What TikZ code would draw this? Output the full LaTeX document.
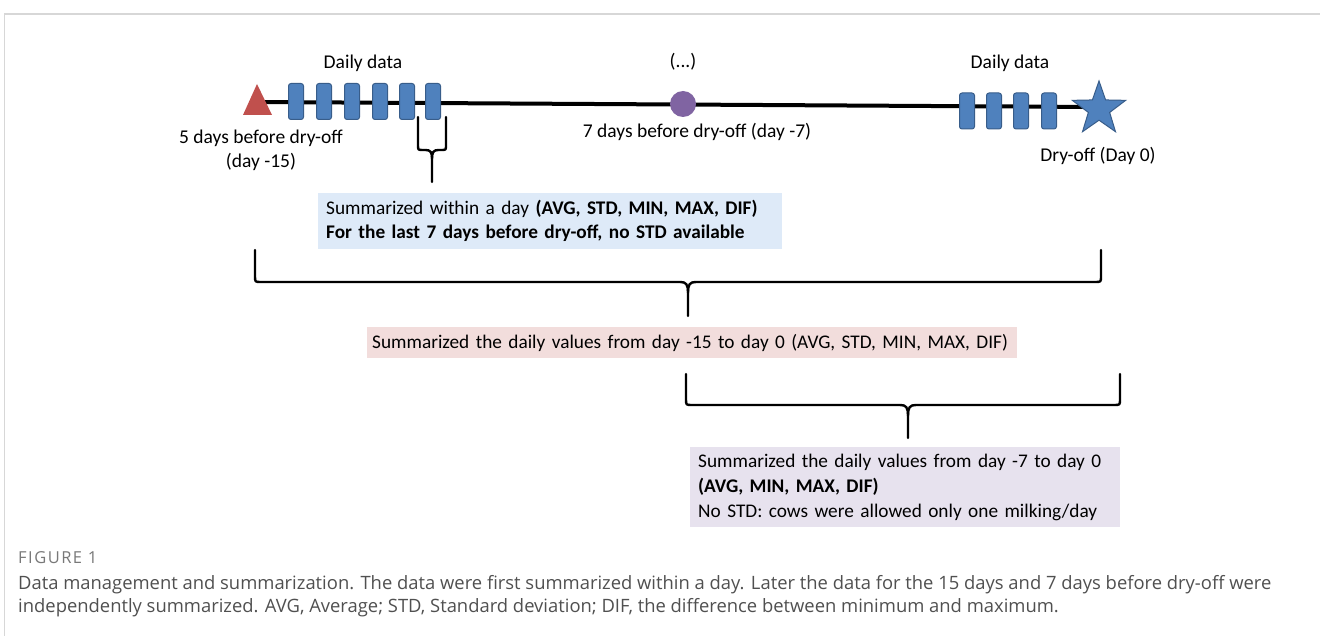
\documentclass[tikz,border=0pt]{standalone}
\usepackage{fontspec}
\setmainfont{Carlito}
\newfontfamily\capfont{Open Sans}
\newfontfamily\figfont[LetterSpace=9]{Open Sans}
\usetikzlibrary{shapes.geometric}
\definecolor{redtri}{RGB}{192,80,77}
\definecolor{rectfill}{RGB}{79,129,189}
\definecolor{rectdraw}{RGB}{56,93,138}
\definecolor{dotc}{RGB}{128,100,162}
\definecolor{boxblue}{RGB}{222,234,248}
\definecolor{boxpink}{RGB}{242,221,220}
\definecolor{boxpurple}{RGB}{231,226,238}
\definecolor{framec}{RGB}{215,215,215}
\definecolor{capc}{RGB}{80,80,80}
\definecolor{figc}{RGB}{120,120,120}
\newcommand{\curlybrace}[7]{%
 \draw[brace] (#1,#4) -- (#1,{#5-#7}) .. controls (#1,#5) .. ({#1+#7},#5) -- ({#3-1.3*#7},#5) .. controls ({#3-0.3*#7},#5) and (#3,{#5+0.4*#7}) .. (#3,{#5+1.8*#7}) -- (#3,#6);
 \draw[brace] (#2,#4) -- (#2,{#5-#7}) .. controls (#2,#5) .. ({#2-#7},#5) -- ({#3+1.3*#7},#5) .. controls ({#3+0.3*#7},#5) and (#3,{#5+0.4*#7}) .. (#3,{#5+1.8*#7});
}
\begin{document}
\begin{tikzpicture}[x=1pt,y=-1pt,
  txt/.style={font=\fontsize{19.5}{24}\selectfont, inner sep=0pt},
  dayrect/.style={rectangle, rounded corners=2.5pt, fill=rectfill, draw=rectdraw, line width=1pt, minimum width=15pt, minimum height=36pt, inner sep=0pt},
  brace/.style={line width=2.4pt, line join=round, line cap=round},
  infobox/.style={font=\fontsize{19.3}{24}\selectfont, align=left, anchor=north west, inner xsep=8pt, inner ysep=0pt}
]
\useasboundingbox (0,0) rectangle (1320,636);
\fill[white] (0,0) rectangle (1320,636);
% frame
\draw[framec, line width=2pt] (4,14) -- (1320,14);
\draw[framec, line width=0.8pt] (4,14) -- (4,636);
% timeline
\coordinate (start) at (257,102);
\coordinate (end) at (1099,107);
\draw[line width=4pt] (start) -- (end);
\fill[redtri] (243,115) -- (257,84) -- (272,115) -- cycle;
\foreach \x [count=\i] in {296,324,352,380,407,433} \node[dayrect] (r\i) at (\x,101.5) {};
\foreach \x [count=\i] in {967,994,1021,1049} \node[dayrect] (s\i) at (\x,111) {};
\node[circle, fill=dotc, minimum size=26pt, inner sep=0pt] (dot) at (683,104) {};
\node[star, star points=5, star point ratio=2.5, minimum size=56pt, inner sep=0pt, fill=rectfill, draw=rectdraw, line width=1pt] (star) at (1099,109) {};
% labels
\node[txt] (dd1) at (363,63) {Daily data};
\node[txt] (dd2) at (1010,63) {Daily data};
\node[txt] (dots) at (683,62) {(...)};
\node[txt, align=center] (l15) at (261,150) {5 days before dry-off\\(day -15)};
\node[txt] (l7) at (697,132) {7 days before dry-off (day -7)};
\node[txt] (l0) at (1098,156) {Dry-off (Day 0)};
% braces
\curlybrace{418}{446}{432}{117}{150}{182}{5}
\curlybrace{255}{1101}{688}{250}{282}{316}{6}
\curlybrace{686}{1120}{908}{374}{405}{438}{6}
% boxes
\node[infobox, fill=boxblue, minimum width=464pt, minimum height=56pt, text width=448pt] (b1) at (318,193) {Summarized within a day \textbf{(AVG, STD, MIN, MAX, DIF)}\\\textbf{For the last 7 days before dry-off, no STD available}};
\node[infobox, fill=boxpink, inner xsep=5pt, minimum width=649pt, minimum height=31pt, text width=640pt] (b2) at (367,327) {Summarized the daily values from day -15 to day 0 (AVG, STD, MIN, MAX, DIF)};
\node[infobox, fill=boxpurple, font=\fontsize{19.3}{25}\selectfont, minimum width=430pt, minimum height=80pt, text width=414pt] (b3) at (690,447) {Summarized the daily values from day -7 to day 0\\\textbf{(AVG, MIN, MAX, DIF)}\\No STD: cows were allowed only one milking/day};
% caption
\node[font=\figfont\fontsize{16.5}{18}\selectfont, text=figc, anchor=west, inner sep=0pt] (figlabel) at (18,558) {FIGURE 1};
\node[font=\capfont\fontsize{18.4}{23}\selectfont, text=capc, anchor=north west, align=left, inner sep=0pt] (caption) at (18,575) {Data management and summarization. The data were first summarized within a day. Later the data for the 15 days and 7 days before dry-off were\\independently summarized. AVG, Average; STD, Standard deviation; DIF, the difference between minimum and maximum.};
\end{tikzpicture}
\end{document}
